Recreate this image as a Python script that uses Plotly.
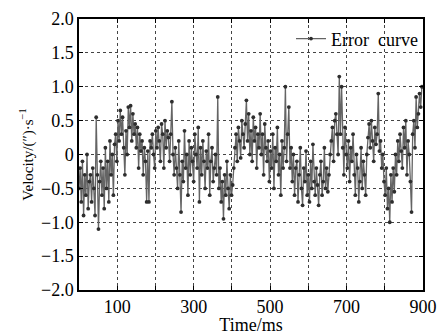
import plotly.graph_objects as go

time_ms = [i * 3 for i in range(300)]
error_vals = [
    -0.5, -0.2, -0.7, -0.1, -0.9, -0.3, -0.6, 0.0, -0.8, -0.4,
    -0.3, -0.7, -0.2, -0.5, -0.9, 0.55, -0.3, -1.1, -0.4, -0.1,
    -0.6, -0.2, -0.8, 0.1, -0.5, -0.1, -0.7, 0.2, -0.3, 0.0,
    -0.6, 0.15, 0.3, -0.1, 0.5, 0.2, 0.65, 0.3, 0.55, 0.1,
    -0.3, 0.35, 0.0, 0.7, 0.4, 0.72, 0.2, 0.6, 0.3, 0.45,
    0.1, 0.4, -0.2, 0.3, 0.05, 0.2, -0.3, 0.1, -0.1, -0.7,
    0.05, -0.7, 0.2, 0.1, 0.3, 0.0, -0.2, 0.35, 0.1, 0.4,
    0.2, -0.1, 0.45, 0.3, -0.2, 0.5, 0.1, 0.35, 0.25, -0.1,
    0.3, 0.78, 0.0, -0.3, 0.1, -0.2, -0.5, 0.2, -0.3, -0.85,
    -0.1, -0.4, 0.35, -0.2, 0.0, -0.6, 0.2, -0.3, 0.1, -0.1,
    -0.4, 0.3, 0.0, -0.2, 0.4, -0.7, 0.1, -0.3, 0.2, -0.1,
    -0.5, 0.05, -0.2, 0.3, -0.6, -0.1, 0.1, -0.4, -0.2, 0.0,
    -0.3, 0.85, -0.5, -0.2, -0.7, -0.4, -0.95, -0.3, -0.6, -0.1,
    -0.5, -0.8, -0.3, -0.6, -0.45, -0.2, 0.1, 0.3, -0.1, 0.4,
    0.2, -0.05, 0.5, 0.3, 0.1, 0.45, 0.8, 0.2, 0.6, 0.0,
    0.35, -0.1, 0.55, 0.2, 0.4, -0.2, 0.3, 0.1, 0.6, 0.0,
    0.3, -0.3, 0.45, 0.1, -0.1, 0.2, -0.4, 0.05, -0.2, 0.3,
    -0.5, 0.1, -0.1, 0.4, -0.3, 0.0, -0.6, 0.2, -0.2, 0.1,
    1.0, -0.1, 0.3, 0.7, -0.2, 0.1, -0.4, 0.0, -0.6, -0.2,
    -0.1, -0.7, -0.3, 0.1, -0.5, -0.75, -0.2, -0.4, 0.05, -0.6,
    -0.3, -0.7, -0.1, -0.5, 0.15, -0.4, -0.6, -0.2, -0.45, -0.75,
    -0.3, -0.1, -0.6, -0.4, 0.1, -0.5, -0.2, -0.55, -0.3, 0.0,
    0.2, 0.4, -0.1, 0.5, 0.6, 0.3, 0.0, 1.15, 0.3, 1.0,
    0.1, -0.3, 0.4, 0.0, -0.2, 0.2, -0.4, 0.1, -0.1, 0.3,
    -0.3, -0.6, 0.0, -0.2, -0.7, -0.4, 0.1, -0.5, -0.1, -0.3,
    -0.6, 0.0, 0.25, 0.45, 0.1, 0.5, 0.2, -0.1, 0.4, 0.15,
    0.3, 0.9, 0.05, 0.2, -0.2, 0.0, -0.4, -0.6, -0.2, -0.8,
    -0.5, -1.0, -0.3, -0.7, -0.2, -0.55, 0.0, -0.3, 0.2, -0.1,
    0.3, 0.05, -0.2, 0.4, 0.1, 0.5, -0.3, 0.2, 0.0, -0.4,
    -0.85, 0.3, 0.5, 0.1, 0.85, 0.4, 0.6, 0.9, 0.7, 1.0,
]

y_tickvals = [2.0, 1.5, 1.0, 0.5, 0.0, -0.5, -1.0, -1.5, -2.0]
y_ticktext = ["2.0", "1.5", "1.0", "0.5", "0", "\u22120.5", "\u22121.0", "\u22121.5", "\u22122.0"]

font_family = "Liberation Serif"
y_title = "Velocity/(\u2033)\u00b7s<sup>\u22121</sup>"

fig = go.Figure()
fig.add_trace(go.Scatter(
    x=time_ms, y=error_vals, mode="lines+markers",
    name="Error\u00a0\u00a0curve",
    line=dict(color="#646464", width=1.3),
    marker=dict(color="#2e2e2e", size=3.8, symbol="circle"),
))

grid = dict(showgrid=True, gridcolor="#444", griddash="dot", gridwidth=1)

fig.update_layout(
    width=438, height=335,
    margin=dict(l=79, r=15, t=19, b=45, autoexpand=False),
    paper_bgcolor="white", plot_bgcolor="white",
    font=dict(family=font_family, size=18, color="black"),
    showlegend=True,
    legend=dict(x=1.0, y=0.995, xanchor="right", yanchor="top",
                bgcolor="rgba(255,255,255,0)", borderwidth=0,
                font=dict(size=18, family=font_family), itemwidth=30),
    xaxis=dict(range=[0, 900], tick0=100, dtick=200, automargin=False,
               minor=dict(dtick=100, tick0=0, ticks="inside", ticklen=4, tickcolor="black", **grid),
               **grid,
               showline=True, linecolor="black", linewidth=1.5, mirror="allticks",
               ticks="inside", ticklen=4, tickcolor="black",
               zeroline=False,
               title=dict(text="Time/ms", standoff=3, font=dict(size=18))),
    yaxis=dict(range=[-2, 2], tickvals=y_tickvals, ticktext=y_ticktext, automargin=False,
               **grid,
               showline=True, linecolor="black", linewidth=1.5, mirror="allticks",
               ticks="inside", ticklen=4, tickcolor="black",
               zeroline=False,
               title=dict(text=y_title, standoff=4, font=dict(size=15))),
)

fig.write_html("out.html", config={"displayModeBar": False},
               post_script="document.body.style.margin='0px';")
